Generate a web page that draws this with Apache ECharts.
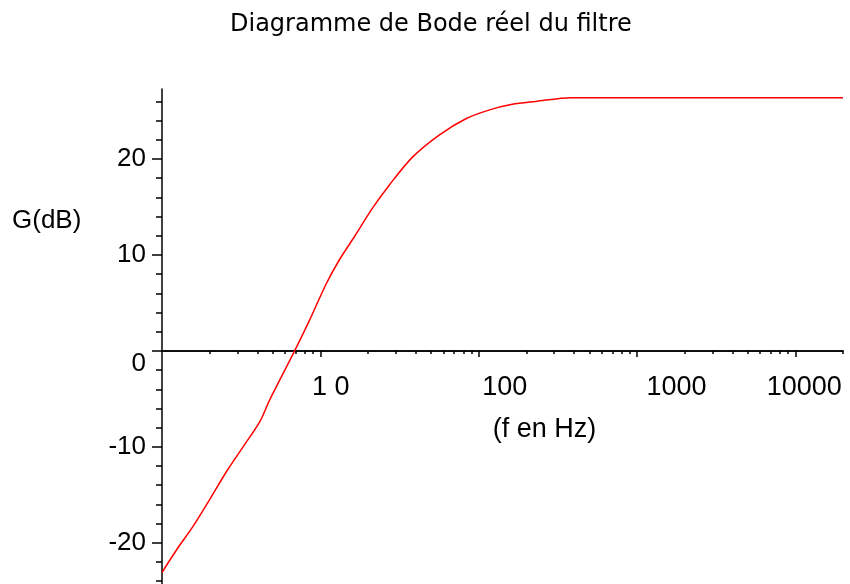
<!DOCTYPE html>
<html>
<head>
<meta charset="utf-8">
<title>Diagramme de Bode</title>
<script src="https://cdn.jsdelivr.net/npm/echarts@6/dist/echarts.min.js"></script>
<style>
    html, body { margin: 0; padding: 0; background: #fff; }
    .bode { width: 850px; height: 584px; }
</style>
</head>
<body>
<div class="bode"></div>
<script>
// données
var freq = [1, 1.24, 1.57, 2.0, 2.55, 3.25, 4.14, 4.79, 6.88, 8.55, 10.9, 13.2, 16.4, 21.4, 27.3, 38.2, 56.3, 83, 116, 163, 229, 383, 1000, 5000, 20000];
var gain = [-23.1, -20.7, -18.3, -15.5, -12.6, -10.0, -7.4, -5.1, 0, 3.2, 7.0, 9.5, 11.9, 14.9, 17.3, 20.2, 22.5, 24.2, 25.1, 25.7, 26.0, 26.4, 26.4, 26.4, 26.4];

// graduations
var xLabelValues = [10, 100, 1000, 10000];
var xLabelTexts = ['1 0', '100', '1000', '10000'];
var xMinorTicks = [2, 3, 4, 5, 6, 7, 8, 9, 20, 30, 40, 50, 60, 70, 80, 90,
    200, 300, 400, 500, 600, 700, 800, 900, 2000, 3000, 4000, 5000, 6000, 7000, 8000, 9000, 20000];
var yLabelValues = [-20, -10, 0, 10, 20];
var yMinorTicks = [-24, -22, -18, -16, -14, -12, -8, -6, -4, -2, 2, 4, 6, 8, 12, 14, 16, 18, 22, 24, 26];

var yMin = -24.3, yMax = 27.3;

var myChart = echarts.init(document.querySelector('.bode'));

// l'axe x passe par G = 0 : on le remonte depuis le bas de la grille
var gridTop = 89, gridBottom = 584;
var xOffset = -Math.round((gridBottom - gridTop) * (0 - yMin) / (yMax - yMin));

// décalage des étiquettes de l'axe x (comme sur l'original)
var xShift = { t10: 21, t100: 52, t1000: 79, t10000: 18 };
var xRich = {};
for (var k in xShift) {
    xRich[k] = { padding: [0, 0, 0, xShift[k]], fontSize: 27, color: '#000', fontFamily: 'Liberation Sans' };
}

var data = freq.map(function (f, i) { return [f, gain[i]]; });

var option = {
    animation: false,
    title: [{
        text: 'Diagramme de Bode réel du filtre',
        left: 230,
        top: 13,
        padding: 0,
        textStyle: { color: '#000', fontSize: 24, fontWeight: 'normal', fontFamily: 'DejaVu Sans' }
    }, {
        text: 'G(dB)',
        left: 12,
        top: 208,
        padding: 0,
        textStyle: { color: '#000', fontSize: 26, fontWeight: 'normal', fontFamily: 'Liberation Sans' }
    }],
    grid: {
        left: 162,
        right: 7,
        top: gridTop,
        bottom: 0,
        outerBoundsMode: 'none'
    },
    xAxis: [{
        type: 'log',
        logBase: 10,
        min: 1,
        max: 20000,
        position: 'bottom',
        offset: xOffset,
        name: '(f en Hz)',
        nameLocation: 'middle',
        nameGap: 65,
        nameTextStyle: { color: '#000', fontSize: 27, fontFamily: 'Liberation Sans', padding: [0, 0, 0, 84] },
        axisLine: { onZero: false, lineStyle: { color: '#000', width: 1.5 } },
        axisTick: { show: true, length: 6, customValues: xLabelValues, lineStyle: { color: '#000', width: 1.5 } },
        axisLabel: {
            customValues: xLabelValues,
            margin: 23,
            color: '#000',
            fontSize: 27,
            fontFamily: 'Liberation Sans',
            formatter: function (v) {
                var n = Math.round(v);
                var i = xLabelValues.indexOf(n);
                return '{t' + n + '|' + xLabelTexts[i] + '}';
            },
            rich: xRich
        },
        splitLine: { show: false }
    }, {
        // petites graduations
        type: 'log',
        logBase: 10,
        min: 1,
        max: 20000,
        position: 'bottom',
        offset: xOffset,
        axisLine: { onZero: false, lineStyle: { color: '#000', width: 1.5 } },
        axisTick: { show: true, length: 3, customValues: xMinorTicks, lineStyle: { color: '#000', width: 1.5 } },
        axisLabel: { show: false },
        splitLine: { show: false }
    }],
    yAxis: [{
        type: 'value',
        min: yMin,
        max: yMax,
        position: 'left',
        axisLine: { show: true, onZero: false, lineStyle: { color: '#000', width: 1.5 } },
        axisTick: { show: true, length: 10, customValues: yLabelValues, lineStyle: { color: '#000', width: 1.5 } },
        axisLabel: {
            customValues: yLabelValues,
            margin: 16,
            color: '#000',
            fontSize: 26,
            fontFamily: 'Liberation Sans',
            formatter: function (v) {
                if (v === 0) return '{z|0}';
                return String(v);
            },
            rich: { z: { padding: [26, 0, 0, 0], fontSize: 26, color: '#000', fontFamily: 'Liberation Sans' } }
        },
        splitLine: { show: false }
    }, {
        type: 'value',
        min: yMin,
        max: yMax,
        position: 'left',
        axisLine: { show: false, onZero: false },
        axisTick: { show: true, length: 6, customValues: yMinorTicks, lineStyle: { color: '#000', width: 1.5 } },
        axisLabel: { show: false },
        splitLine: { show: false }
    }],
    series: [{
        name: 'G',
        type: 'line',
        data: data,
        showSymbol: false,
        smooth: 0.3,
        lineStyle: { color: '#ff0000', width: 1.5 },
        itemStyle: { color: '#ff0000' }
    }]
};

myChart.setOption(option);
</script>
</body>
</html>
